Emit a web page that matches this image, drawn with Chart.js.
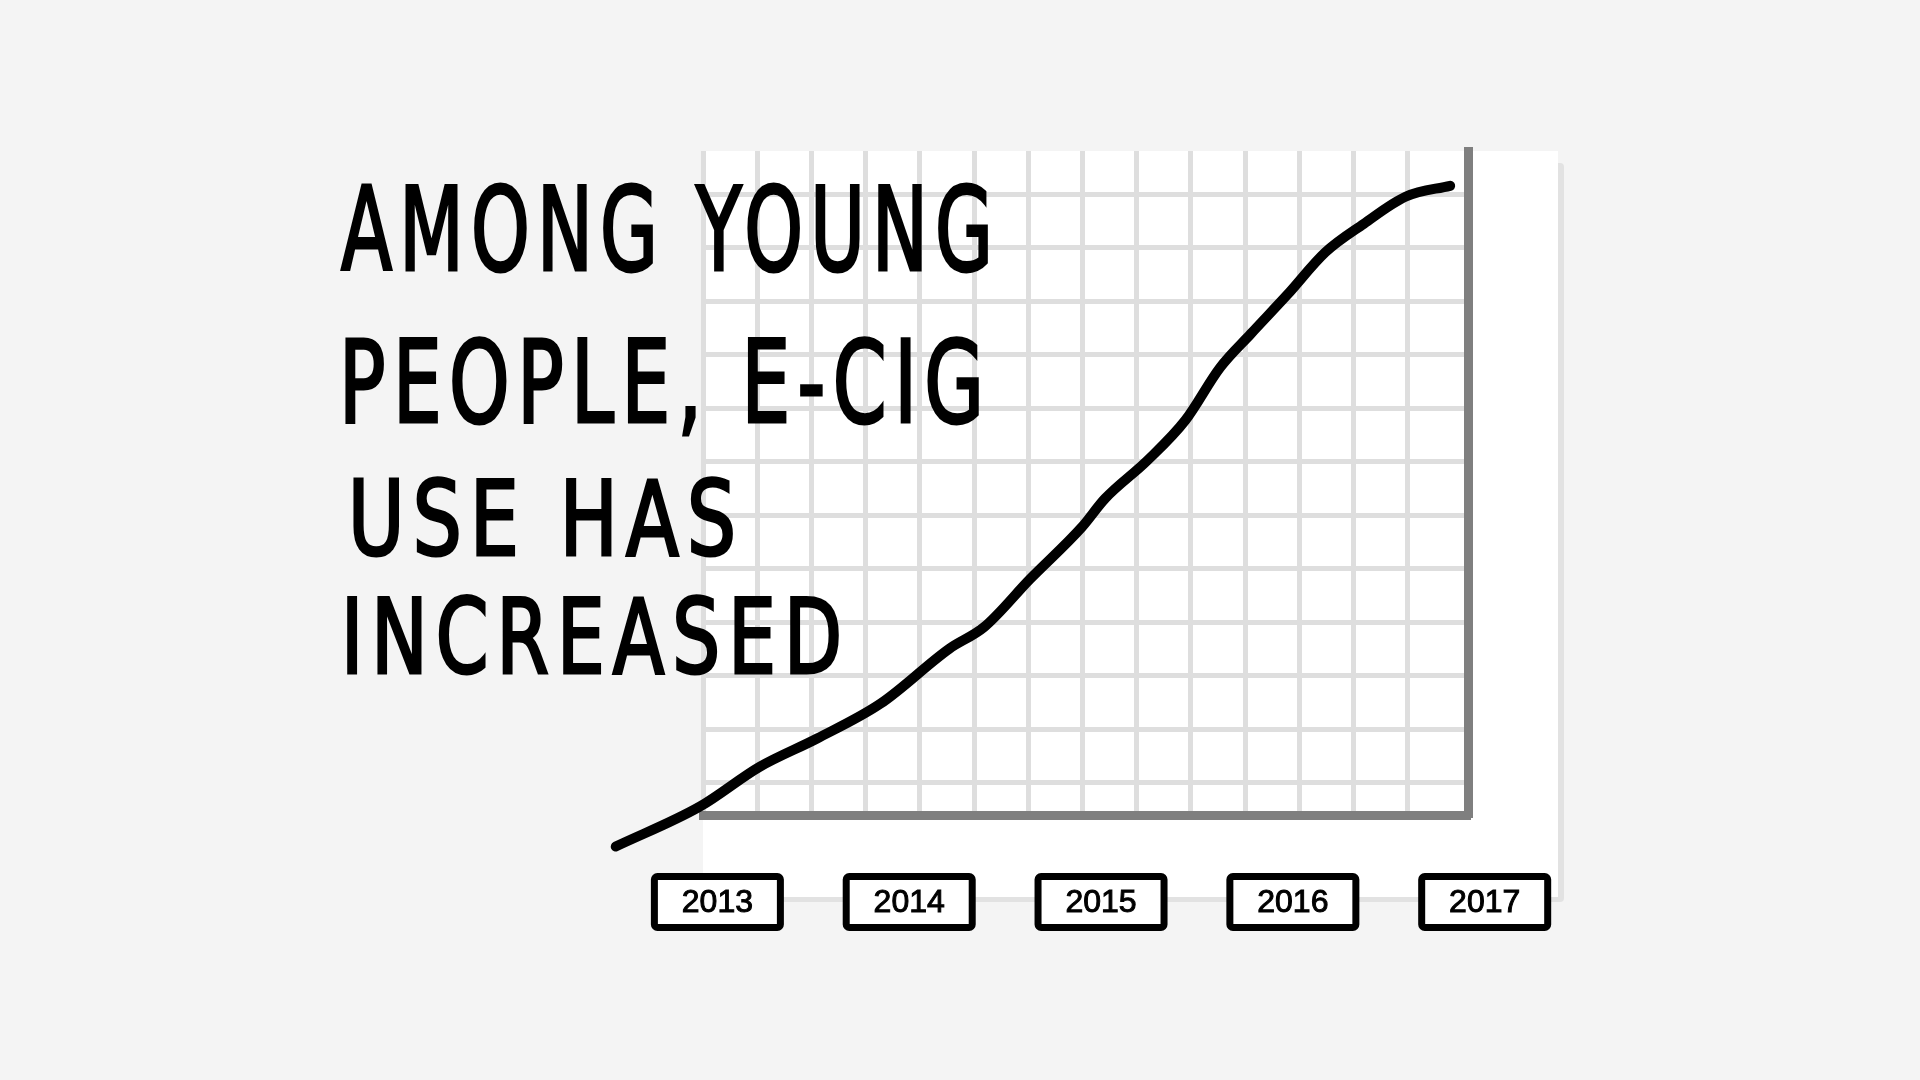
<!DOCTYPE html>
<html lang="en">
<head>
<meta charset="utf-8">
<title>Among young people, e-cig use has increased</title>
<script src="https://cdn.jsdelivr.net/npm/chart.js@4.4.1/dist/chart.umd.min.js"></script>
<style>
  html, body { margin: 0; padding: 0; background: #f4f4f4; overflow: hidden; }
  #lienzo { position: relative; width: 1920px; height: 1080px; }
  #grafica { position: absolute; left: 0; top: 0; }
  .renglon {
    position: absolute;
    font-family: "DejaVu Sans Condensed", "DejaVu Sans", sans-serif;
    color: #000;
    -webkit-text-stroke: 3px #000;
    letter-spacing: 10px;
    white-space: nowrap;
    transform-origin: 0 0;
  }
</style>
</head>
<body>
<div id="lienzo">
  <canvas id="grafica" width="1920" height="1080"></canvas>
  <div id="titular"></div>
</div>
<script>
const titulo = ["AMONG YOUNG", "PEOPLE, E-CIG", "USE HAS", "INCREASED"];
const anios = [2013, 2014, 2015, 2016, 2017];
// curva: x en años, y en cuadritos de la cuadricula
const xCurva = [2012.47, 2012.91, 2013.22, 2013.52, 2013.85, 2014.21, 2014.39, 2014.63, 2014.90, 2015.02,
                2015.24, 2015.44, 2015.62, 2015.78, 2015.97, 2016.17, 2016.37, 2016.59, 2016.82];
const yCurva = [-0.19, 0.56, 1.30, 1.83, 2.48, 3.51, 3.91, 4.81, 5.78, 6.31,
                7.02, 7.78, 8.76, 9.39, 10.12, 10.92, 11.45, 11.96, 12.16];

// renglones del titular: [izquierda, linea base, ancho, tamaño de letra]
const renglones = [[341, 270, 652, 116], [339, 422, 645, 114], [348, 555, 388, 104], [341, 673, 501, 104]];

const contenedor = document.getElementById("titular");
titulo.forEach((texto, i) => {
  const [izq, base, ancho, tam] = renglones[i];
  const div = document.createElement("div");
  div.className = "renglon";
  div.textContent = texto;
  div.style.fontSize = tam + "px";
  div.style.lineHeight = tam + "px";
  div.style.left = izq + "px";
  div.style.top = (base - 0.846 * tam) + "px";
  contenedor.appendChild(div);
  // el ultimo espaciado no cuenta en el ancho
  const medido = div.getBoundingClientRect().width - 10;
  div.style.transform = "scaleX(" + (ancho / medido) + ")";
});

const colorCuadricula = "#dedede";
const colorEje = "#7f7f7f";

// hoja blanca con su sombra detras de la cuadricula
const hoja = {
  id: "hoja",
  beforeDraw(chart) {
    const { ctx, chartArea } = chart;
    ctx.save();
    ctx.fillStyle = "#e2e2e2";
    ctx.beginPath();
    ctx.roundRect(chartArea.left + 12, chartArea.top + 12, 1564 - chartArea.left - 12, 902 - chartArea.top - 12, 4);
    ctx.fill();
    ctx.fillStyle = "#ffffff";
    ctx.fillRect(chartArea.left, chartArea.top, 1558 - chartArea.left, 897 - chartArea.top);
    ctx.restore();
  }
};

// cajitas con los años debajo del grafico
const cajasAnios = {
  id: "cajasAnios",
  afterDraw(chart) {
    const ctx = chart.ctx;
    const escala = chart.scales.anio;
    ctx.save();
    escala.ticks.forEach(tick => {
      const cx = escala.getPixelForValue(tick.value);
      const cy = 902;
      ctx.fillStyle = "#ffffff";
      ctx.strokeStyle = "#000000";
      ctx.lineWidth = 7;
      ctx.beginPath();
      ctx.roundRect(cx - 63, cy - 25.5, 126, 51, 3);
      ctx.fill();
      ctx.stroke();
      ctx.fillStyle = "#000000";
      ctx.strokeStyle = "#000000";
      ctx.lineWidth = 1;
      ctx.font = '32px "Liberation Sans Narrow", sans-serif';
      ctx.textAlign = "center";
      ctx.textBaseline = "middle";
      ctx.fillText(String(tick.value), cx, cy + 1);
      ctx.strokeText(String(tick.value), cx, cy + 1);
    });
    ctx.restore();
  }
};

const lineaCuadricula = ctx => Number.isInteger(ctx.tick.value) ? colorCuadricula : "rgba(0,0,0,0)";

new Chart(document.getElementById("grafica"), {
  type: "line",
  data: {
    datasets: [{
      label: "E-cig use among young people",
      data: xCurva.map((x, i) => ({ x: x, y: yCurva[i] })),
      xAxisID: "anio",
      yAxisID: "y",
      borderColor: "#000000",
      borderWidth: 10,
      borderCapStyle: "round",
      borderJoinStyle: "round",
      cubicInterpolationMode: "monotone",
      pointRadius: 0,
      clip: false
    }]
  },
  options: {
    responsive: false,
    animation: false,
    layout: {
      padding: { left: 703, top: 151, right: 1920 - 1468, bottom: 1080 - 815 }
    },
    scales: {
      anio: {
        type: "linear",
        position: "bottom",
        display: false,
        bounds: "data",
        // limites puestos aqui para que la curva no se recorte antes de la cuadricula
        afterBuildTicks: escala => {
          escala.min = 2012.925;
          escala.max = 2016.913;
          escala.ticks = anios.map(v => ({ value: v }));
        }
      },
      x: {
        type: "linear",
        position: "bottom",
        min: 0,
        max: 14.11,
        ticks: { display: false, stepSize: 1 },
        grid: { color: lineaCuadricula, lineWidth: 5, drawTicks: false },
        border: { color: colorEje, width: 9 }
      },
      y: {
        type: "linear",
        position: "right",
        min: 0.4,
        max: 12.81,
        ticks: { display: false, stepSize: 1 },
        grid: { color: lineaCuadricula, lineWidth: 5, drawTicks: false },
        border: { color: colorEje, width: 9 }
      }
    },
    plugins: {
      legend: { display: false },
      tooltip: { enabled: false }
    }
  },
  plugins: [hoja, cajasAnios]
});
</script>
</body>
</html>
